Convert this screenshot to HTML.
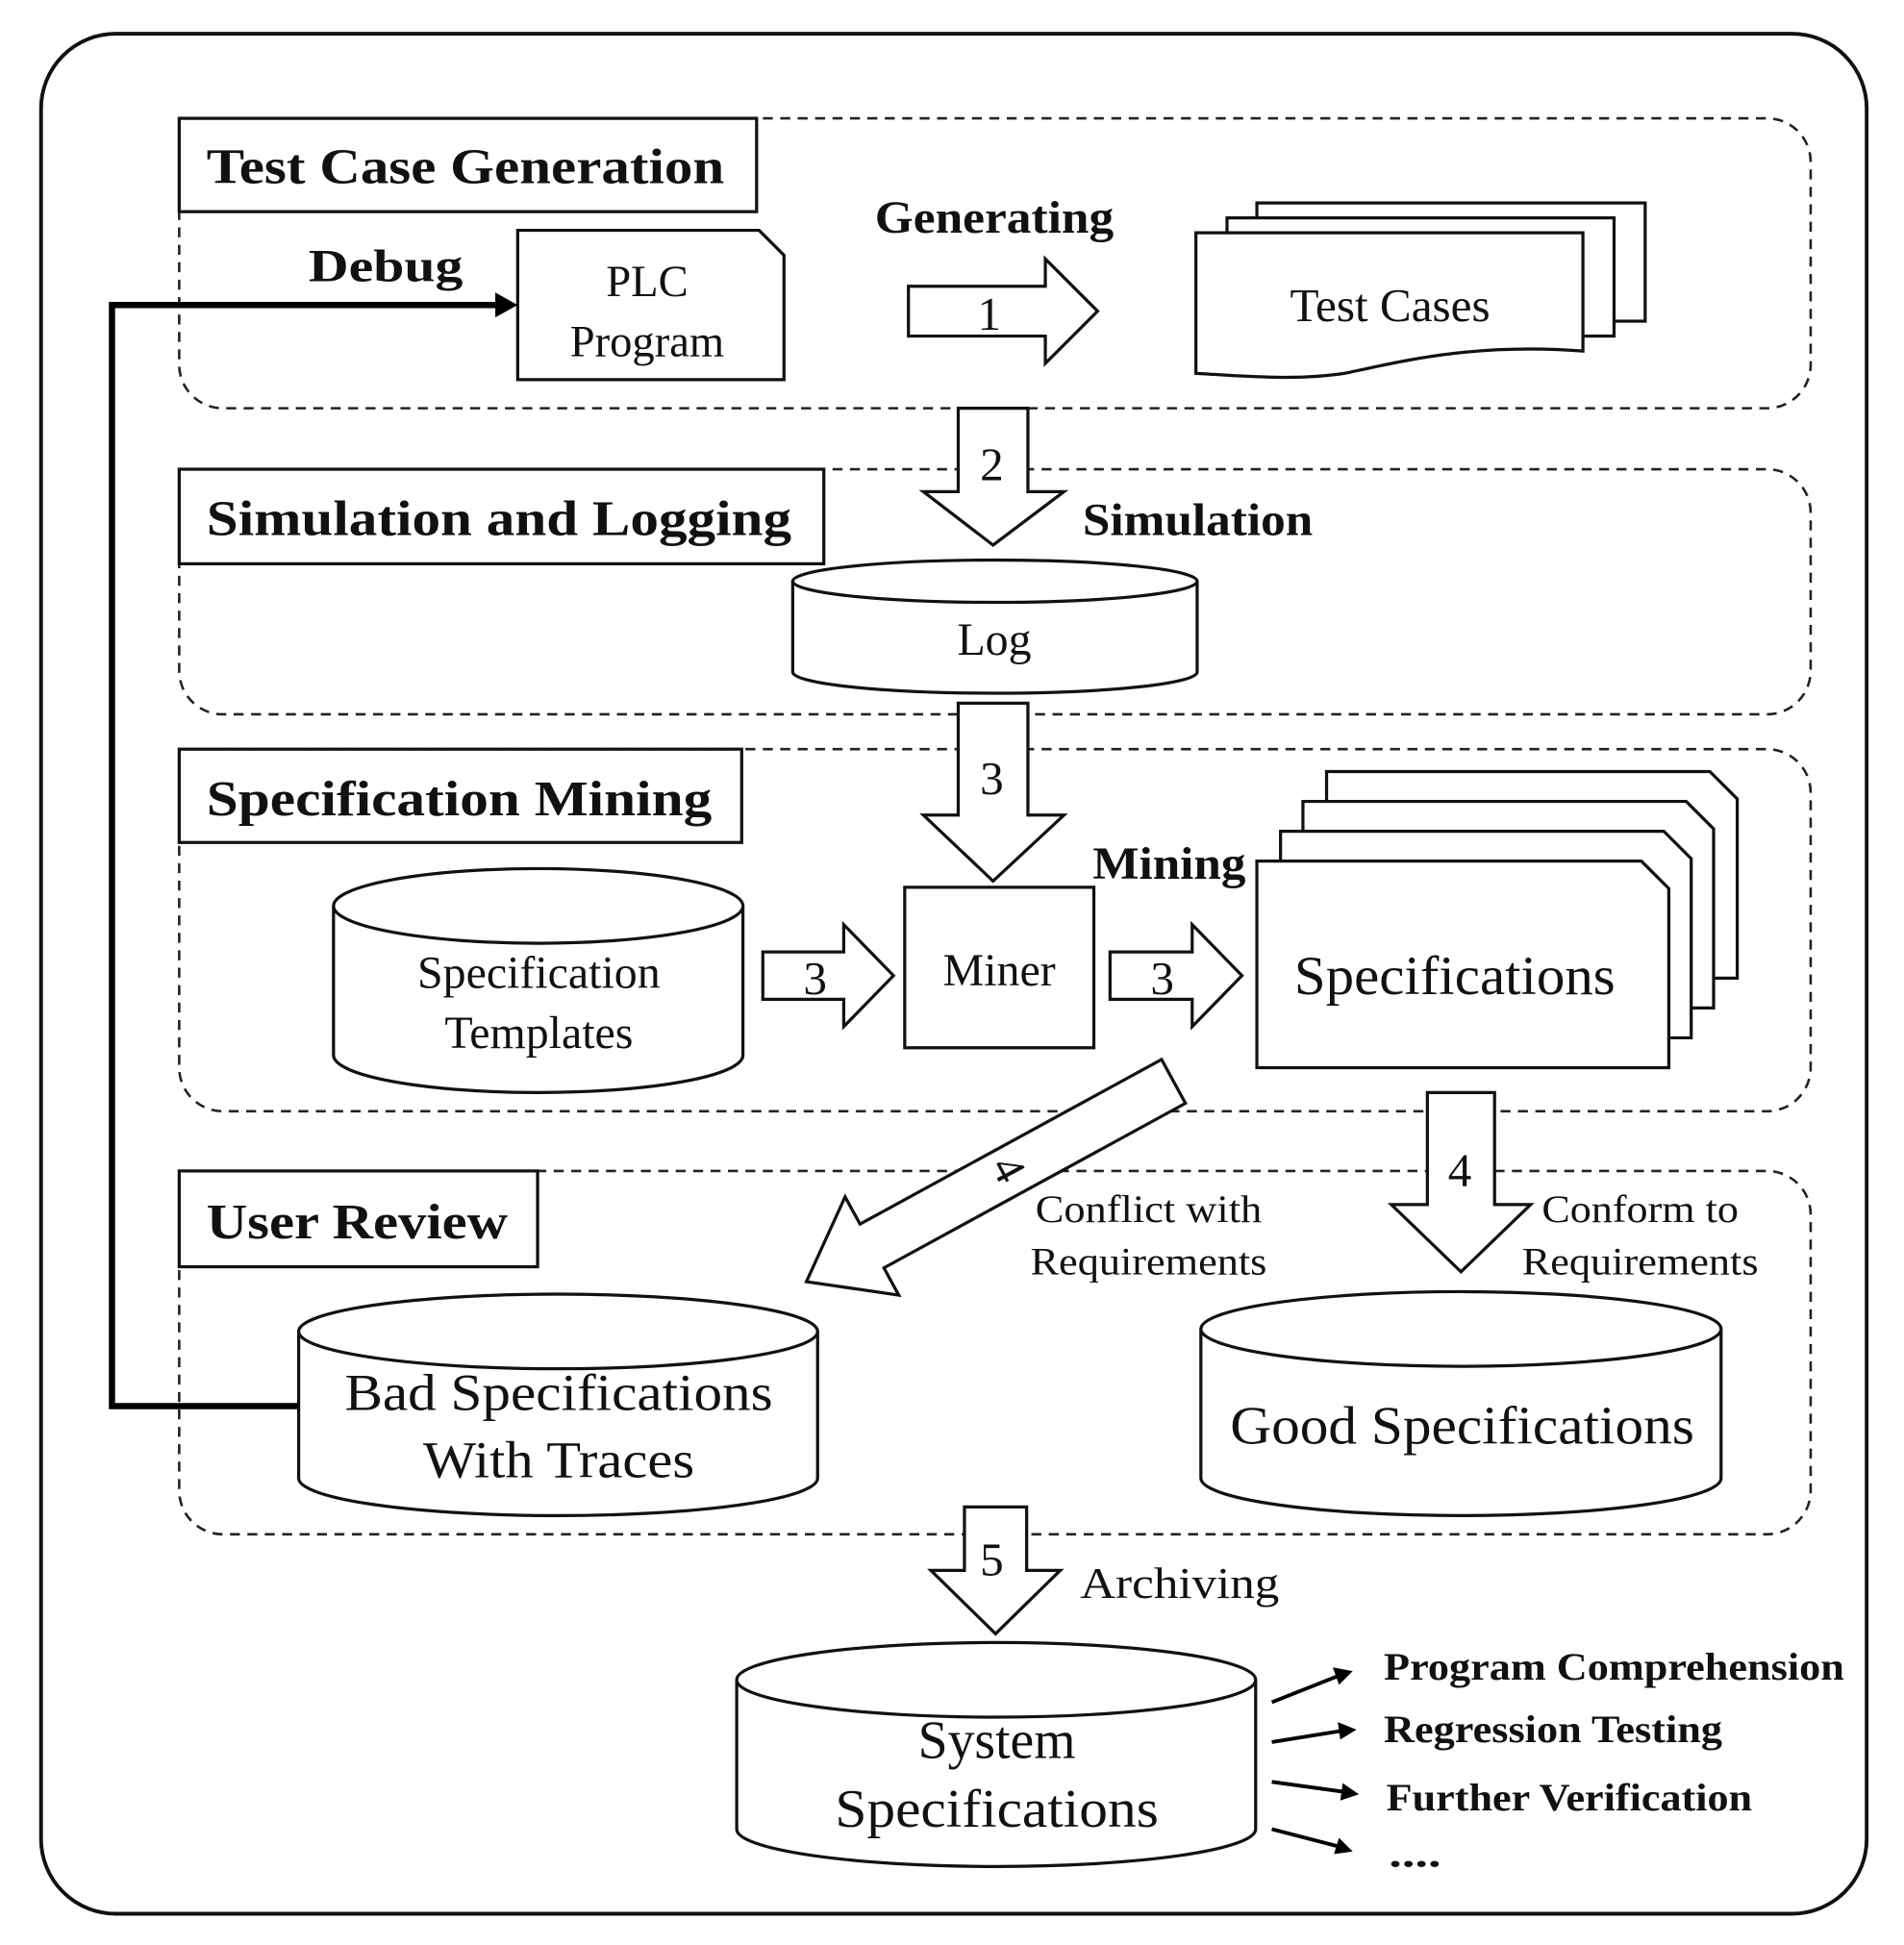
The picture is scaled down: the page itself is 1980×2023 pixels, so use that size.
<!DOCTYPE html>
<html><head><meta charset="utf-8"><style>html,body{margin:0;padding:0;background:#fff}svg{display:block}</style></head>
<body>
<svg width="1980" height="2023" viewBox="0 0 1530 1563" xmlns="http://www.w3.org/2000/svg" font-family="Liberation Serif, serif">
<rect width="1530" height="1563" fill="#fff"/>
<rect x="33" y="27" width="1467" height="1511" rx="60" fill="none" stroke="#111" stroke-width="3"/>
<g fill="none" stroke="#222" stroke-width="2" stroke-dasharray="8,6">
<rect x="144" y="95" width="1311" height="233" rx="35"/>
<rect x="144" y="377" width="1311" height="197" rx="35"/>
<rect x="144" y="602" width="1311" height="291" rx="35"/>
<rect x="144" y="941" width="1311" height="292" rx="35"/>
</g>
<g fill="#fff" stroke="#111" stroke-width="2.5">
<rect x="144" y="95" width="464" height="75"/>
<rect x="144" y="377" width="518" height="76"/>
<rect x="144" y="602" width="452" height="75"/>
<rect x="144" y="941" width="288" height="77"/>
</g>
<g font-weight="bold" font-size="40" fill="#111" lengthAdjust="spacingAndGlyphs">
<text x="166" y="147" textLength="416" lengthAdjust="spacingAndGlyphs">Test Case Generation</text>
<text x="166" y="430" textLength="470" lengthAdjust="spacingAndGlyphs">Simulation and Logging</text>
<text x="166" y="655" textLength="406" lengthAdjust="spacingAndGlyphs">Specification Mining</text>
<text x="166" y="995" textLength="242" lengthAdjust="spacingAndGlyphs">User Review</text>
</g>
<g font-weight="bold" font-size="37" fill="#111">
<text x="248" y="226" textLength="124" lengthAdjust="spacingAndGlyphs">Debug</text>
<text x="703" y="187" textLength="192" lengthAdjust="spacingAndGlyphs">Generating</text>
<text x="870" y="430" textLength="185" lengthAdjust="spacingAndGlyphs">Simulation</text>
<text x="878" y="706" textLength="123" lengthAdjust="spacingAndGlyphs">Mining</text>
</g>
<g fill="#fff" stroke="#111" stroke-width="2.5">
<path d="M416 185 H610 L630 205 V305 H416 Z"/>
<rect x="1010" y="163" width="312" height="95"/>
<rect x="986" y="175" width="311" height="95"/>
<path d="M961 187 H1272 V282 C1180 275 1120 292 1080 300 C1040 306 1000 302 961 300 Z"/>
<path d="M1066 620 H1374 L1396 642 V786 H1066 Z"/>
<path d="M1047 644 H1355 L1377 666 V810 H1047 Z"/>
<path d="M1029 668 H1337 L1359 690 V834 H1029 Z"/>
<path d="M1010 692 H1319 L1341 714 V858 H1010 Z"/>
<rect x="727" y="713" width="152" height="129"/>
<path d="M730 230 H840 V208 L882 250 L840 292 V270 H730 Z"/>
<path d="M770 328 H826 V395 H855 L798 438 L742 395 H770 Z"/>
<path d="M770 565 H826 V655 H855 L798 708 L742 655 H770 Z"/>
<path d="M613 765 H678 V743 L718 784 L678 825 V803 H613 Z"/>
<path d="M892 765 H958 V743 L998 784 L958 825 V803 H892 Z"/>
<path d="M952.6 886.6 L710.3 1018.9 L722.2 1040.8 L648 1030 L679.1 961.8 L691.1 983.7 L933.4 851.4 Z"/>
<path d="M1147 878 H1201 V968 H1230 L1174 1022 L1118 968 H1147 Z"/>
<path d="M775 1211 H825 V1262 H852 L800 1313 L748 1262 H775 Z"/>
<path d="M637 467 V540 A162.5 17 0 0 0 962 540 V467"/>
<ellipse cx="799.5" cy="467" rx="162.5" ry="17"/>
<path d="M268 728 V848 A164.5 30 0 0 0 597 848 V728"/>
<ellipse cx="432.5" cy="728" rx="164.5" ry="30"/>
<path d="M240 1070 V1188 A208.5 30 0 0 0 657 1188 V1070"/>
<ellipse cx="448.5" cy="1070" rx="208.5" ry="30"/>
<path d="M965 1068 V1188 A209 30 0 0 0 1383 1188 V1068"/>
<ellipse cx="1174" cy="1068" rx="209" ry="30"/>
<path d="M592 1350 V1470 A208.5 30 0 0 0 1009 1470 V1350"/>
<ellipse cx="800.5" cy="1350" rx="208.5" ry="30"/>
</g>
<polyline points="240,1130 90,1130 90,245 402,245" fill="none" stroke="#000" stroke-width="5"/>
<path d="M398 235 L416 245 L398 255 Z" fill="#000"/>
<g stroke="#000" stroke-width="3">
<line x1="1022" y1="1368" x2="1075" y2="1347"/>
<line x1="1022" y1="1400" x2="1078" y2="1391"/>
<line x1="1022" y1="1432" x2="1080" y2="1440"/>
<line x1="1022" y1="1470" x2="1076" y2="1484"/>
</g>
<g fill="#000">
<path d="M1087 1343 L1071 1340 L1076 1354 Z"/>
<path d="M1090 1390 L1075 1384 L1077 1398 Z"/>
<path d="M1092 1442 L1079 1433 L1077 1447 Z"/>
<path d="M1087 1488 L1076 1477 L1072 1490 Z"/>
</g>
<g font-size="34" fill="#111" text-anchor="middle">
<text x="520" y="238" font-size="36">PLC</text>
<text x="520" y="286" font-size="36">Program</text>
<text x="1117" y="258" font-size="38">Test Cases</text>
<text x="795" y="265" font-size="38">1</text>
<text x="797" y="386" font-size="38">2</text>
<text x="799" y="526" font-size="37">Log</text>
<text x="797" y="638" font-size="38">3</text>
<text x="433" y="794" font-size="37">Specification</text>
<text x="433" y="842" font-size="37">Templates</text>
<text x="655" y="799" font-size="38">3</text>
<text x="803" y="792" font-size="37">Miner</text>
<text x="934" y="799" font-size="38">3</text>
<text x="1169" y="799" font-size="44" textLength="258" lengthAdjust="spacingAndGlyphs">Specifications</text>
<text x="800" y="945" font-size="36" transform="rotate(62 800 945)">4</text>
<text x="923" y="982" font-size="31" textLength="182" lengthAdjust="spacingAndGlyphs">Conflict with</text>
<text x="923" y="1024" font-size="31" textLength="190" lengthAdjust="spacingAndGlyphs">Requirements</text>
<text x="1173" y="953" font-size="38">4</text>
<text x="1318" y="982" font-size="31" textLength="158" lengthAdjust="spacingAndGlyphs">Conform to</text>
<text x="1318" y="1024" font-size="31" textLength="190" lengthAdjust="spacingAndGlyphs">Requirements</text>
<text x="449" y="1133" font-size="42" textLength="344" lengthAdjust="spacingAndGlyphs">Bad Specifications</text>
<text x="449" y="1187" font-size="42" textLength="218" lengthAdjust="spacingAndGlyphs">With Traces</text>
<text x="1175" y="1160" font-size="43" textLength="373" lengthAdjust="spacingAndGlyphs">Good Specifications</text>
<text x="797" y="1266" font-size="38">5</text>
<text x="948" y="1284" font-size="35" textLength="160" lengthAdjust="spacingAndGlyphs">Archiving</text>
<text x="801" y="1413" font-size="43">System</text>
<text x="801" y="1468" font-size="43" textLength="260" lengthAdjust="spacingAndGlyphs">Specifications</text>
</g>
<g font-weight="bold" font-size="31" fill="#111">
<text x="1112" y="1350" textLength="370" lengthAdjust="spacingAndGlyphs">Program Comprehension</text>
<text x="1112" y="1400" textLength="272" lengthAdjust="spacingAndGlyphs">Regression Testing</text>
<text x="1114" y="1455" textLength="294" lengthAdjust="spacingAndGlyphs">Further Verification</text>
<text x="1116" y="1500" textLength="42" lengthAdjust="spacingAndGlyphs">....</text>
</g>
</svg>
</body></html>
